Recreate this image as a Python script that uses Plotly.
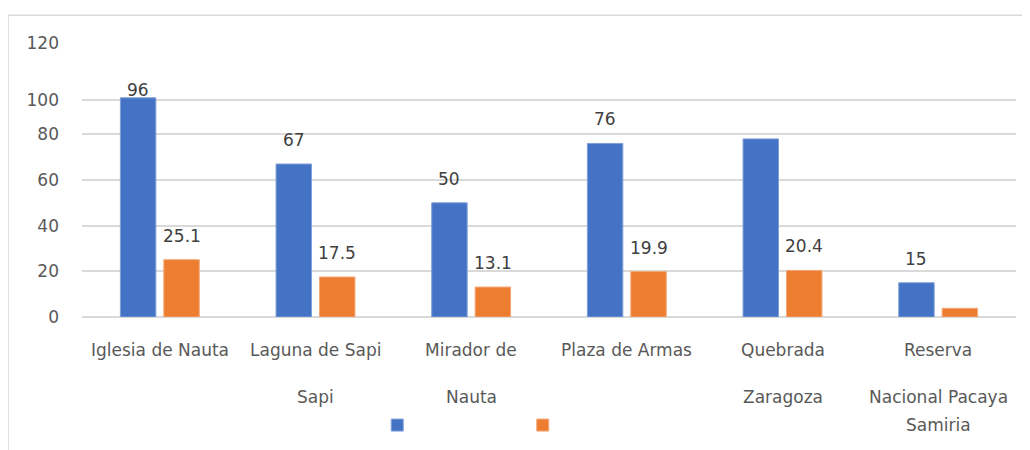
import plotly.graph_objects as go

# ---- data ----
categories = ["Iglesia de Nauta", "Laguna de Sapi Sapi", "Mirador de Nauta",
              "Plaza de Armas", "Quebrada Zaragoza", "Reserva Nacional Pacaya Samiria"]
category_lines = [["Iglesia de Nauta"], ["Laguna de Sapi", "Sapi"], ["Mirador de", "Nauta"],
                  ["Plaza de Armas"], ["Quebrada", "Zaragoza"],
                  ["Reserva", "Nacional Pacaya", "Samiria"]]
series_blue = [96, 67, 50, 76, 78, 15]
series_orange = [25.1, 17.5, 13.1, 19.9, 20.4, 3.8]
labels_blue = ["96", "67", "50", "76", "", "15"]
labels_orange = ["25.1", "17.5", "13.1", "19.9", "20.4", ""]
tick_vals = [0, 20, 40, 60, 80, 95, 120]
tick_text = ["0", "20", "40", "60", "80", "100", "120"]

# ---- style ----
BLUE = "#4472C4"
ORANGE = "#ED7D31"
FONT = "DejaVu Sans"
label_shift_blue = [8, 24, 24, 24, 24, 24]
label_shift_orange = [24, 24, 24, 24, 24, 24]
line_shift = [-33, -80, -108]

fig = go.Figure()
fig.add_trace(go.Bar(x=categories, y=series_blue, name=" ", marker=dict(color=BLUE, line=dict(color="#7f9fd8", width=1))))
fig.add_trace(go.Bar(x=categories, y=series_orange, name=" ", marker=dict(color=ORANGE, line=dict(color="#f4a877", width=1))))

annotations = []
for i, c in enumerate(categories):
    if labels_blue[i]:
        annotations.append(dict(x=c, y=series_blue[i], xref="x", yref="y", text=labels_blue[i],
                                showarrow=False, xshift=-21.7, yshift=label_shift_blue[i],
                                font=dict(family=FONT, size=17, color="#404040")))
    if labels_orange[i]:
        annotations.append(dict(x=c, y=series_orange[i], xref="x", yref="y", text=labels_orange[i],
                                showarrow=False, xshift=21.7, yshift=label_shift_orange[i],
                                font=dict(family=FONT, size=17, color="#404040")))
    for j, line in enumerate(category_lines[i]):
        annotations.append(dict(x=c, y=0, xref="x", yref="paper", text=line, showarrow=False,
                                yanchor="middle", yshift=line_shift[j],
                                font=dict(family=FONT, size=17, color="#595959")))

fig.update_layout(
    width=1030, height=450,
    margin=dict(l=74, r=22, t=35, b=141),
    paper_bgcolor="white", plot_bgcolor="white",
    barmode="group", bargap=0.442, bargroupgap=0.184,
    showlegend=True,
    legend=dict(orientation="h", x=0.3161, xanchor="left", y=-0.396, yanchor="middle",
                entrywidth=100.5, entrywidthmode="pixels", font=dict(family=FONT, size=14),
                bgcolor="rgba(0,0,0,0)"),
    annotations=annotations,
    shapes=[dict(type="rect", xref="paper", yref="paper", x0=-0.0792, x1=1.03, y0=-0.6, y1=1.1016,
                 line=dict(color="#d9d9d9", width=1.5), fillcolor="rgba(0,0,0,0)", layer="below")],
)
fig.update_xaxes(showticklabels=False, showline=False, ticks="", showgrid=False)
fig.update_yaxes(range=[0, 120], tickvals=tick_vals, ticktext=tick_text, showgrid=True,
                 gridcolor="#d9d9d9", gridwidth=1.5, zeroline=True, zerolinecolor="#d9d9d9",
                 zerolinewidth=1.5, ticks="", ticklabelstandoff=22,
                 tickfont=dict(family=FONT, size=17, color="#595959"))

fig.write_html("out.html")
